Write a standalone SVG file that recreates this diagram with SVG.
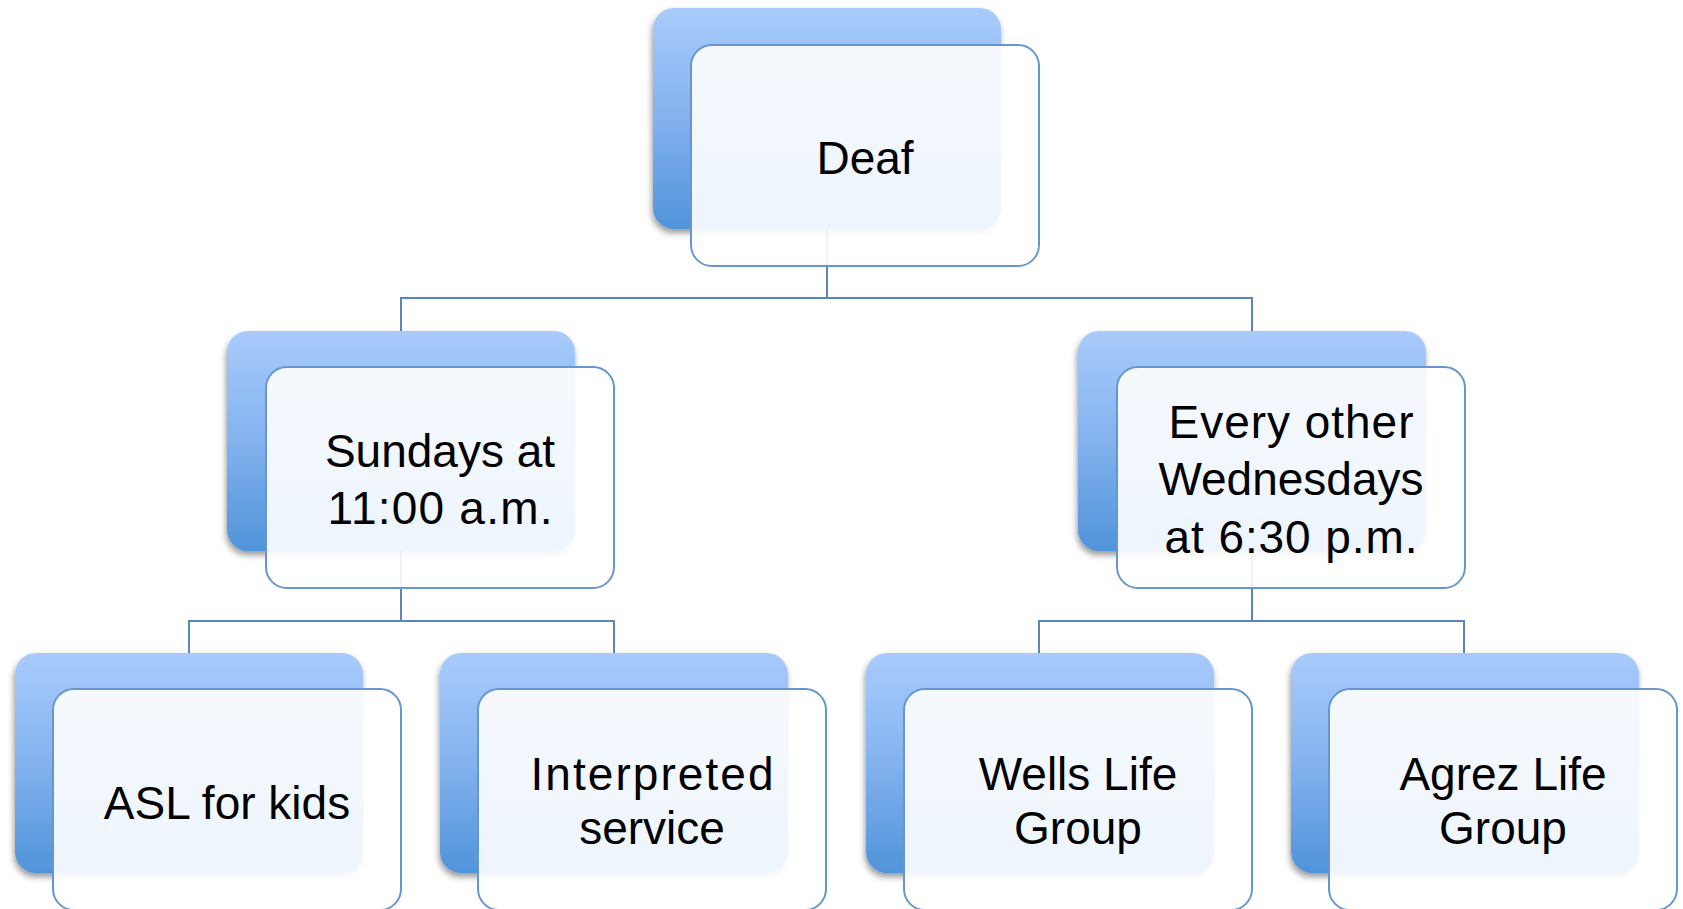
<svg xmlns="http://www.w3.org/2000/svg" width="1683" height="909" viewBox="0 0 1683 909">
<defs>
<linearGradient id="blueGrad" x1="0" y1="0" x2="0" y2="1">
<stop offset="0" stop-color="#a9cbfb"/>
<stop offset="0.5" stop-color="#83b2ef"/>
<stop offset="1" stop-color="#5094da"/>
</linearGradient>
<filter id="shadow" x="-10%" y="-10%" width="120%" height="125%">
<feDropShadow dx="-1" dy="4" stdDeviation="3" flood-color="#000" flood-opacity="0.4"/>
</filter>
</defs>
<style>
.back{fill:url(#blueGrad);filter:url(#shadow);}
.front{fill:#ffffff;fill-opacity:0.9;stroke:#6796cf;stroke-width:2;}
.conn{fill:none;stroke:#5a84bb;stroke-width:2;}
.lbl{font-family:"Liberation Sans",Arial,sans-serif;font-size:46px;fill:#000;text-anchor:middle;}
</style>
<rect width="1683" height="909" fill="#ffffff"/>
<g id="connectors">
<path class="conn" d="M827 229 V298 M401 331 V298 H1252 V331"/>
<path class="conn" d="M401 551 V621 M189 653 V621 H614 V653"/>
<path class="conn" d="M1252 551 V621 M1039 653 V621 H1464 V653"/>
</g>
<g id="node-deaf">
<rect class="back" x="653" y="8" width="348" height="221" rx="21"/>
<rect class="front" x="691" y="45" width="348" height="221" rx="21"/>
<text class="lbl" x="865" y="174">Deaf</text>
</g>
<g id="node-sundays">
<rect class="back" x="227" y="331" width="348" height="220" rx="21"/>
<rect class="front" x="266" y="367" width="348" height="221" rx="21"/>
<text class="lbl" x="440" y="467">Sundays at</text>
<text class="lbl" x="440" y="524" textLength="225">11:00 a.m.</text>
</g>
<g id="node-wednesdays">
<rect class="back" x="1078" y="331" width="348" height="220" rx="21"/>
<rect class="front" x="1117" y="367" width="348" height="221" rx="21"/>
<text class="lbl" x="1291" y="438" textLength="245">Every other</text>
<text class="lbl" x="1291" y="495">Wednesdays</text>
<text class="lbl" x="1291" y="553" textLength="253">at 6:30 p.m.</text>
</g>
<g id="node-asl">
<rect class="back" x="15" y="653" width="348" height="220" rx="21"/>
<rect class="front" x="53" y="689" width="348" height="221" rx="21"/>
<text class="lbl" x="227" y="819">ASL for kids</text>
</g>
<g id="node-interpreted">
<rect class="back" x="440" y="653" width="348" height="220" rx="21"/>
<rect class="front" x="478" y="689" width="348" height="221" rx="21"/>
<text class="lbl" x="652" y="790" textLength="243">Interpreted</text>
<text class="lbl" x="652" y="844">service</text>
</g>
<g id="node-wells">
<rect class="back" x="866" y="653" width="348" height="220" rx="21"/>
<rect class="front" x="904" y="689" width="348" height="221" rx="21"/>
<text class="lbl" x="1078" y="790">Wells Life</text>
<text class="lbl" x="1078" y="844">Group</text>
</g>
<g id="node-agrez">
<rect class="back" x="1291" y="653" width="348" height="220" rx="21"/>
<rect class="front" x="1329" y="689" width="348" height="221" rx="21"/>
<text class="lbl" x="1503" y="790">Agrez Life</text>
<text class="lbl" x="1503" y="844">Group</text>
</g>
</svg>
